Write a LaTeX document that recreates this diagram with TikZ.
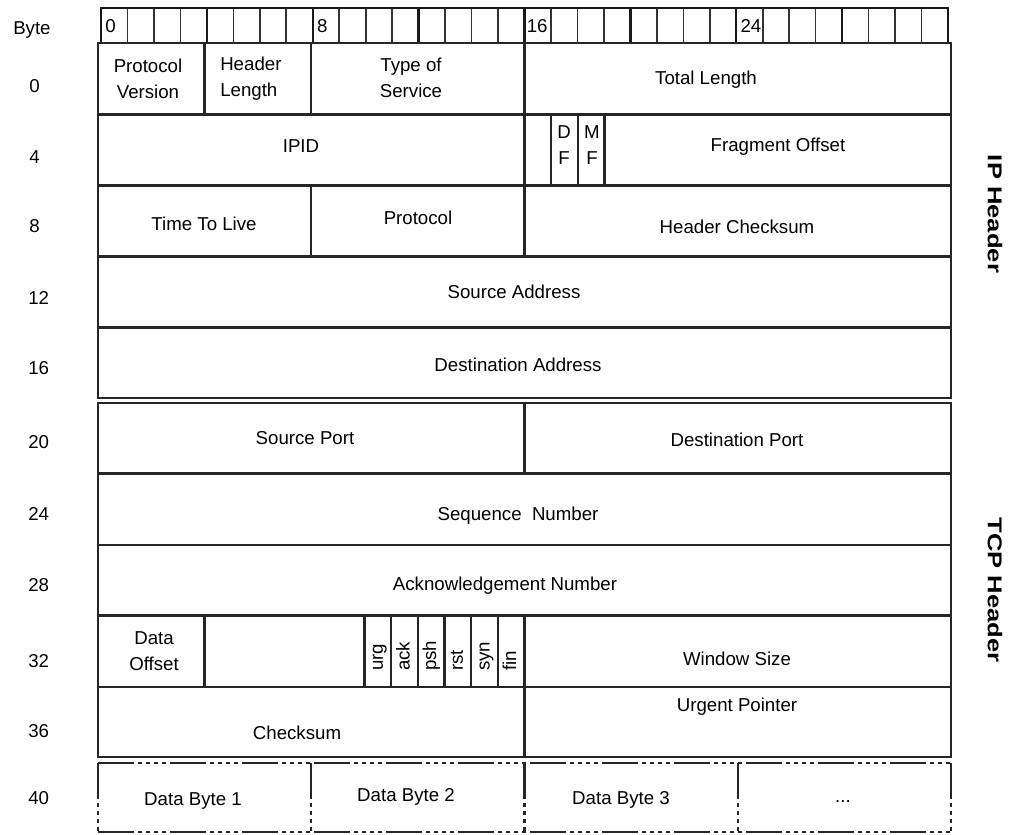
\documentclass[tikz,border=0pt]{standalone}
\usepackage{fontspec}
\usepackage{graphicx}
\setmainfont{Liberation Sans}
\begin{document}
\begin{tikzpicture}[x=0.75pt,y=-0.75pt,
  declare function={bx(\b)=98+\b*26.656; rx(\b)=101+\b*26.47;},
  cellline/.style={line width=1.7pt,draw=black!85},
  bitline/.style={line width=1.2pt,draw=black!80},
  nibline/.style={line width=1.8pt,draw=black!90},
  dataline/.style={line width=1.7pt,draw=black!85,dash pattern=on 27pt off 3pt on 3pt off 3pt on 3pt off 3pt on 3pt off 3pt on 3pt off 3pt},
  txt/.style={font=\fontsize{14}{19.5}\selectfont,inner sep=0pt,align=center},
  side/.style={font=\fontsize{15}{18}\selectfont\bfseries,inner sep=0pt,rotate=-90},
  flag/.style={font=\fontsize{14}{16}\selectfont,inner sep=0pt,rotate=90,anchor=base west},
]
\useasboundingbox[fill=white] (0,0) rectangle (1021,835);

% ---- bit ruler ----
\foreach \b in {0,...,31} \draw[bitline] ({rx(\b)},8) rectangle ({rx(\b+1)},43);
\foreach \b in {0,4,...,32} \draw[nibline] ({rx(\b)},8) -- ({rx(\b)},43);
\draw[nibline] ({rx(0)},8) -- ({rx(32)},8);
\node[txt,anchor=west] (r0)  at ({rx(0)+4},26) {0};
\node[txt,anchor=west] (r8)  at ({rx(8)+4},26) {8};
\node[txt,anchor=west] (r16) at ({rx(16)+2},26) {16};
\node[txt,anchor=west] (r24) at ({rx(24)+4},26) {24};

% ---- IP header ----
% row 0
\draw[cellline] ({bx(0)},43) rectangle ({bx(4)},114.5);
\draw[cellline] ({bx(4)},43) rectangle ({bx(8)},114.5);
\draw[cellline] ({bx(8)},43) rectangle ({bx(16)},114.5);
\draw[cellline] ({bx(16)},43) rectangle ({bx(32)},114.5);
% row 4
\draw[cellline] ({bx(0)},114.5) rectangle ({bx(16)},185.5);
\draw[cellline] ({bx(16)},114.5) rectangle ({bx(17)},185.5);
\draw[cellline] ({bx(17)},114.5) rectangle ({bx(18)},185.5);
\draw[cellline] ({bx(18)},114.5) rectangle ({bx(19)},185.5);
\draw[cellline] ({bx(19)},114.5) rectangle ({bx(32)},185.5);
% row 8
\draw[cellline] ({bx(0)},185.5) rectangle ({bx(8)},256.5);
\draw[cellline] ({bx(8)},185.5) rectangle ({bx(16)},256.5);
\draw[cellline] ({bx(16)},185.5) rectangle ({bx(32)},256.5);
% rows 12, 16
\draw[cellline] ({bx(0)},256.5) rectangle ({bx(32)},327.5);
\draw[cellline] ({bx(0)},327.5) rectangle ({bx(32)},398);

% ---- TCP header ----
\draw[cellline] ({bx(0)},403) rectangle ({bx(16)},473.5);
\draw[cellline] ({bx(16)},403) rectangle ({bx(32)},473.5);
\draw[cellline] ({bx(0)},473.5) rectangle ({bx(32)},545);
\draw[cellline] ({bx(0)},545) rectangle ({bx(32)},615.5);
\draw[cellline] ({bx(0)},615.5) rectangle ({bx(4)},687);
\draw[cellline] ({bx(4)},615.5) rectangle ({bx(10)},687);
\foreach \b in {10,...,15} \draw[cellline] ({bx(\b)},615.5) rectangle ({bx(\b+1)},687);
\draw[cellline] ({bx(16)},615.5) rectangle ({bx(32)},687);
\draw[cellline] ({bx(0)},687) rectangle ({bx(16)},757);
\draw[cellline] ({bx(16)},687) rectangle ({bx(32)},757);

% ---- data row ----
\draw[dataline] ({bx(0)},763) -- ({bx(32)},763);
\draw[dataline] ({bx(0)},832) -- ({bx(32)},832);
\foreach \b in {0,8,16,24,32} \draw[dataline] ({bx(\b)},763) -- ({bx(\b)},832);

% ---- field texts ----
\node[txt] (pv) at (148,79) {Protocol\\Version};
\node[txt,align=left,anchor=west] (hl) at (220,79) {Header\\Length};
\node[txt] (tos) at (411,78) {Type of\\Service};
\node[txt] (tl) at (706,80) {Total Length};
\node[txt] (ipid) at (301,146) {IPID};
\node[txt] (df) at (564,145) {D\\F};
\node[txt] (mf) at (592,145) {M\\F};
\node[txt] (fo) at (778,147) {Fragment Offset};
\node[txt] (ttl) at (204,224) {Time To Live};
\node[txt] (proto) at (418,218) {Protocol};
\node[txt] (hc) at (737,227) {Header Checksum};
\node[txt] (sa) at (514,292) {Source Address};
\node[txt] (da) at (518,365) {Destination Address};
\node[txt] (sp) at (305,438) {Source Port};
\node[txt] (dp) at (737,440) {Destination Port};
\node[txt] (seq) at (518,516) {Sequence~ Number};
\node[txt] (ack) at (505,586) {Acknowledgement Number};
\node[txt] (dof) at (154,651) {Data\\Offset};
\node[flag] (furg) at ({bx(10.5)+5},671) {urg};
\node[flag] (fack) at ({bx(11.5)+5},671) {ack};
\node[flag] (fpsh) at ({bx(12.5)+5},671) {psh};
\node[flag] (frst) at ({bx(13.5)+5},671) {rst};
\node[flag] (fsyn) at ({bx(14.5)+5},671) {syn};
\node[flag] (ffin) at ({bx(15.5)+5},671) {fin};
\node[txt] (ws) at (737,659) {Window Size};
\node[txt] (cs) at (297,733) {Checksum};
\node[txt] (up) at (737,707) {Urgent Pointer};
\node[txt] (db1) at (193,801) {Data Byte 1};
\node[txt] (db2) at (406,797) {Data Byte 2};
\node[txt] (db3) at (621,800) {Data Byte 3};
\node[txt] (dots) at (843,801) {...};

% ---- left byte offsets ----
\node[txt,anchor=west] (lbyte) at (13,30) {Byte};
\node[txt,anchor=west] (l0)  at (29,86)  {0};
\node[txt,anchor=west] (l4)  at (29,157) {4};
\node[txt,anchor=west] (l8)  at (29,226) {8};
\node[txt,anchor=west] (l12) at (28,298) {12};
\node[txt,anchor=west] (l16) at (28,368) {16};
\node[txt,anchor=west] (l20) at (28,442) {20};
\node[txt,anchor=west] (l24) at (28,514) {24};
\node[txt,anchor=west] (l28) at (28,585) {28};
\node[txt,anchor=west] (l32) at (28,661) {32};
\node[txt,anchor=west] (l36) at (28,731) {36};
\node[txt,anchor=west] (l40) at (28,798) {40};

% ---- right section labels ----
\node[side] (iph) at (995,214) {\scalebox{1.28}[1]{IP Header}};
\node[side] (tcph) at (995,590) {\scalebox{1.28}[1]{TCP Header}};
\end{tikzpicture}
\end{document}
